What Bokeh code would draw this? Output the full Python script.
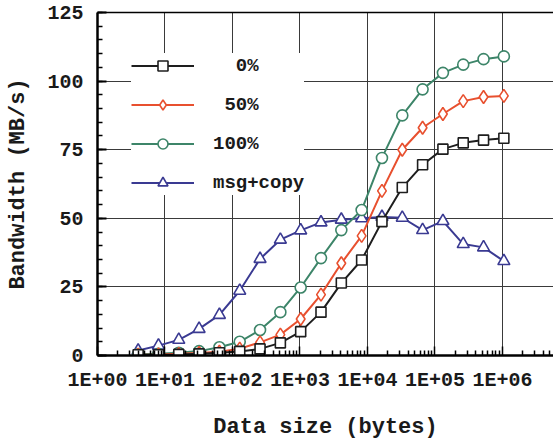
from bokeh.plotting import figure
from bokeh.models import FixedTicker, Range1d, Legend, LegendItem, LogAxis
from bokeh.embed import file_html
from bokeh.resources import INLINE

# ---- data ----
x_bytes = [4, 8, 16, 32, 64, 128, 256, 512, 1024, 2048, 4096, 8192, 16384,
           32768, 65536, 131072, 262144, 524288, 1048576]
bw_0 = [0.3, 0.3, 0.4, 0.6, 1.0, 1.5, 2.4, 4.6, 8.7, 15.8, 26.4, 34.8, 48.8,
        61.2, 69.5, 75.2, 77.5, 78.5, 79.2]
bw_50 = [0.3, 0.4, 0.6, 0.9, 1.4, 2.5, 4.8, 7.6, 13.3, 22.2, 33.6, 43.6, 60.0,
         75.0, 83.0, 88.0, 92.7, 94.2, 94.6]
bw_100 = [0.4, 0.6, 1.0, 1.6, 3.0, 5.0, 9.3, 15.8, 24.8, 35.5, 45.7, 53.0, 72.0,
          87.5, 97.0, 103.0, 106.0, 108.0, 109.0]
bw_msg = [1.8, 3.6, 5.7, 9.7, 14.8, 23.6, 35.2, 42.2, 45.6, 48.5, 49.5, 50.0, 50.5,
          50.2, 45.7, 49.0, 40.6, 39.4, 34.4]

series_labels = ["\u00a0\u00a00%", "\u00a050%", "100%", "msg+copy"]
x_ticks = [1, 10, 100, 1000, 10000, 100000, 1000000]
x_tick_labels = ["1E+00", "1E+01", "1E+02", "1E+03", "1E+04", "1E+05", "1E+06"]
y_ticks = [0, 25, 50, 75, 100, 125]

FONT = "Liberation Mono"
TXT = "#1a1a1a"

p = figure(width=553, height=444, x_axis_type="log",
           x_range=Range1d(1, 5.7e6), y_range=Range1d(0, 125),
           output_backend="svg", toolbar_location=None,
           min_border_left=97, min_border_right=0,
           min_border_top=12, min_border_bottom=89)
p.outline_line_color = None
p.background_fill_color = "white"
p.border_fill_color = "white"

x_minor = [m * 10 ** k for k in range(0, 7) for m in range(2, 10)]
y_minor = list(range(0, 126, 5))

# x axis
xa = p.xaxis[0]
xa.ticker = FixedTicker(ticks=x_ticks, minor_ticks=x_minor)
xa.major_label_overrides = dict(zip(x_ticks, x_tick_labels))
xa.axis_line_width = 2.5
xa.axis_line_color = "black"
xa.major_tick_in = 9
xa.major_tick_out = 0
xa.minor_tick_in = 5
xa.minor_tick_out = 0
xa.major_tick_line_width = 1.5
xa.minor_tick_line_width = 1.5
xa.major_label_standoff = 13
xa.major_label_text_font = FONT
xa.major_label_text_font_style = "bold"
xa.major_label_text_font_size = "20px"
xa.major_label_text_color = TXT
xa.axis_label = "Data size (bytes)"
xa.axis_label_standoff = 20
xa.axis_label_text_font = FONT
xa.axis_label_text_font_style = "bold"
xa.axis_label_text_font_size = "22px"
xa.axis_label_text_color = TXT

# y axis
ya = p.yaxis[0]
ya.ticker = FixedTicker(ticks=y_ticks, minor_ticks=y_minor)
ya.axis_line_width = 2.5
ya.axis_line_color = "black"
ya.major_tick_in = 9
ya.major_tick_out = 0
ya.minor_tick_in = 5
ya.minor_tick_out = 0
ya.major_tick_line_width = 2
ya.minor_tick_line_width = 1.5
ya.major_label_standoff = 14
ya.major_label_text_font = FONT
ya.major_label_text_font_style = "bold"
ya.major_label_text_font_size = "20px"
ya.major_label_text_color = TXT
ya.axis_label = "Bandwidth (MB/s)"
ya.axis_label_standoff = 13
ya.axis_label_text_font = FONT
ya.axis_label_text_font_style = "bold"
ya.axis_label_text_font_size = "22px"
ya.axis_label_text_color = TXT

# top border line
top = LogAxis(ticker=FixedTicker(ticks=[]), major_tick_in=0, major_tick_out=0,
              minor_tick_in=0, minor_tick_out=0, major_label_standoff=0,
              axis_line_width=1.5, axis_line_color="black")
p.add_layout(top, "above")

# grids
p.xgrid.ticker = FixedTicker(ticks=x_ticks)
p.ygrid.ticker = FixedTicker(ticks=y_ticks)
for g in (p.xgrid, p.ygrid):
    g.grid_line_color = "#3a3a3a"
    g.grid_line_width = 1

# series (draw order: msg+copy, 100%, 50%, 0%)
styles = {
    "0": dict(vals=bw_0, color="#1e1e1e", marker="square", size=10),
    "50": dict(vals=bw_50, color="#e8502f", marker="diamond", size=13),
    "100": dict(vals=bw_100, color="#3d8569", marker="circle", size=11),
    "msg": dict(vals=bw_msg, color="#3a3a92", marker="triangle", size=12),
}
renderers = {}
for key in ["msg", "100", "50", "0"]:
    st = styles[key]
    rl = p.line(x_bytes, st["vals"], line_color=st["color"], line_width=2)
    rm = p.scatter(x_bytes, st["vals"], marker=st["marker"], size=st["size"],
                   fill_color="white", line_color=st["color"], line_width=1.6)
    renderers[key] = [rl, rm]

items = [LegendItem(label=lab, renderers=renderers[k])
         for lab, k in zip(series_labels, ["0", "50", "100", "msg"])]
legend = Legend(items=items, location=(34, 160), orientation="vertical",
                glyph_width=63, glyph_height=25, label_height=25,
                spacing=14, padding=10, margin=0, label_standoff=19,
                background_fill_color="white", background_fill_alpha=1.0,
                border_line_color=None,
                label_text_font=FONT, label_text_font_style="bold",
                label_text_font_size="19px", label_text_color=TXT)
p.add_layout(legend, "center")

open("out.html", "w").write(file_html(p, INLINE))
